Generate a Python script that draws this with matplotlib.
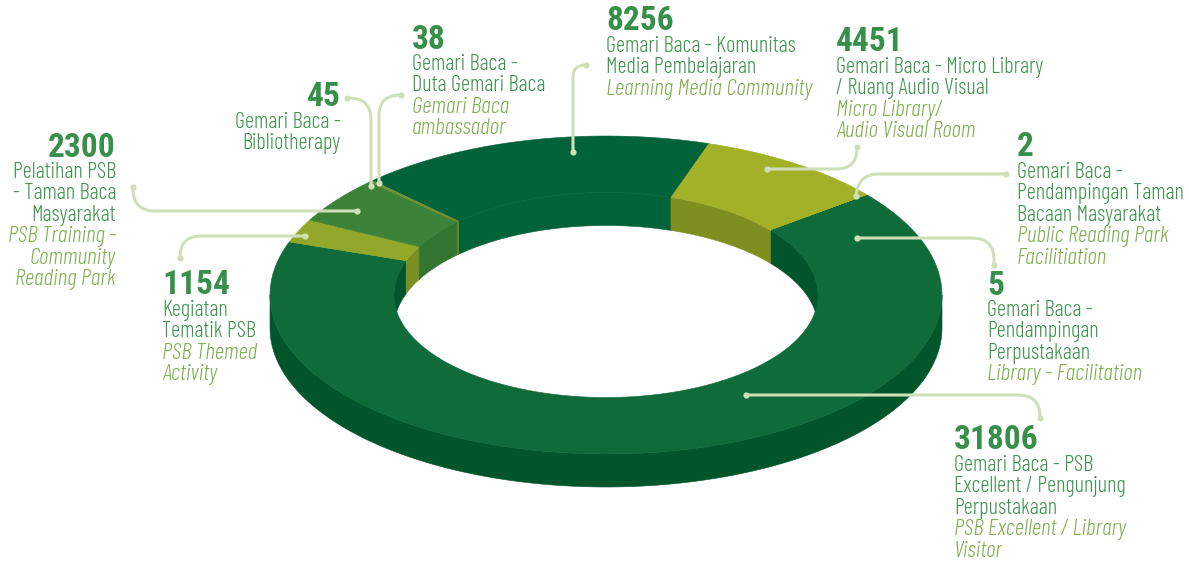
import numpy as np
import matplotlib
matplotlib.use("Agg")
import matplotlib.pyplot as plt
from matplotlib.path import Path
from matplotlib.patches import PathPatch

# clockwise from the 8256 slice
values = [8256, 4451, 2, 5, 31806, 1154, 2300, 45, 38]
top_colors = ["#02633a", "#a2b128", "#0f6b3a", "#0f6b3a", "#0f6b3a",
              "#93a82b", "#3d8239", "#6f8f33", "#6f8f33"]
inner_colors = ["#02633a", "#7f8f1f", "#00552a", "#00552a", "#00552a",
                "#7c9022", "#337530", "#667f2c", "#667f2c"]
outer_color = "#00552a"

# value, then regular lines, then italic lines
numbers = ["8256", "4451", "2", "5", "31806", "1154", "2300", "45", "38"]
names = [
    ["Gemari Baca - Komunitas", "Media Pembelajaran"],
    ["Gemari Baca - Micro Library", "/ Ruang Audio Visual"],
    ["Gemari Baca -", "Pendampingan Taman", "Bacaan Masyarakat"],
    ["Gemari Baca -", "Pendampingan", "Perpustakaan"],
    ["Gemari Baca - PSB", "Excellent / Pengunjung", "Perpustakaan"],
    ["Kegiatan", "Tematik PSB"],
    ["Pelatihan PSB", "- Taman Baca", "Masyarakat"],
    ["Gemari Baca -", "Bibliotherapy"],
    ["Gemari Baca -", "Duta Gemari Baca"],
]
names_en = [
    ["Learning Media Community"],
    ["Micro Library/", "Audio Visual Room"],
    ["Public Reading Park", "Facilitiation"],
    ["Library - Facilitation"],
    ["PSB Excellent / Library", "Visitor"],
    ["PSB Themed", "Activity"],
    ["PSB Training -", "Community", "Reading Park"],
    [],
    ["Gemari Baca", "ambassador"],
]

# layout in pixels: text x, alignment, number baseline, first line baseline
text_pos = [(606, "left", 30, 52), (836, "left", 51, 73), (1017, "left", 156, 178),
            (987, "left", 295, 316), (954, "left", 449, 471), (162, "left", 294, 316),
            (116, "right", 157, 178), (341, "right", 106, 128), (412, "left", 49, 70)]
leaders = [[(573, 152), (573, 65), (586, 65)],
           [(767, 169), (857, 169), (857, 147)],
           [(1006, 174), (858, 174), (856, 196)],
           [(857, 238), (994, 238), (994, 265)],
           [(746, 395), (1040, 395), (1040, 418)],
           [(305, 236), (180, 236), (180, 258)],
           [(357, 211), (133, 211), (133, 187)],
           [(371, 186), (371, 98), (347, 98)],
           [(379, 183), (379, 95), (401, 95)]]

cx, cy = 606, 295
rx_out, ry_out = 336, 159
rx_in, ry_in = 212, 102.5
depth = 33
start_angle = -44

plt.rcParams["font.family"] = ["Barlow Condensed", "Liberation Sans", "DejaVu Sans"]

fig = plt.figure(figsize=(11.89, 5.62), dpi=100)
ax = fig.add_axes([0, 0, 1, 1])
ax.set_xlim(0, 1189)
ax.set_ylim(562, 0)
ax.axis("off")


def arc(rx, ry, a, b, dy=0):
    t = np.radians(np.linspace(a, b, 200))
    return cx + rx * np.sin(t), cy - ry * np.cos(t) + dy


def wall(rx, ry, a, b, color):
    x, y = arc(rx, ry, a, b)
    x2, y2 = arc(rx, ry, b, a, depth)
    ax.fill(np.r_[x, x2], np.r_[y, y2], color=color, lw=0.4, zorder=1)


edges = start_angle + np.r_[0, np.cumsum(values)] / sum(values) * 360

# side walls first, the top face covers whatever sticks out
for i in range(len(values)):
    a, b = edges[i], edges[i + 1]
    if max(a, 90) < min(b, 270):
        wall(rx_out, ry_out, max(a, 90), min(b, 270), outer_color)
    for lo, hi in [(-90, 90), (270, 450)]:
        if max(a, lo) < min(b, hi):
            wall(rx_in, ry_in, max(a, lo), min(b, hi), inner_colors[i])

for i in range(len(values)):
    x, y = arc(rx_out, ry_out, edges[i], edges[i + 1])
    x2, y2 = arc(rx_in, ry_in, edges[i + 1], edges[i])
    ax.fill(np.r_[x, x2], np.r_[y, y2], color=top_colors[i], lw=0.4, zorder=2)

line_col = "#cfe0b8"
for (p0, p1, p2) in leaders:
    p0, p1, p2 = np.array(p0, float), np.array(p1, float), np.array(p2, float)
    r = min(22, np.linalg.norm(p2 - p1) * 0.95, np.linalg.norm(p0 - p1) * 0.95)
    a = p1 + (p0 - p1) / np.linalg.norm(p0 - p1) * r
    b = p1 + (p2 - p1) / np.linalg.norm(p2 - p1) * r
    path = Path([p0, a, p1, b, p2],
                [Path.MOVETO, Path.LINETO, Path.CURVE3, Path.CURVE3, Path.LINETO])
    ax.add_patch(PathPatch(path, fc="none", ec=line_col, lw=2.2, zorder=3))
    ax.plot([p0[0], p2[0]], [p0[1], p2[1]], "o", color=line_col, ms=4.5, mew=0,
            zorder=4)

pitch = 21.4
for i, num in enumerate(numbers):
    tx, ha, y_num, y0 = text_pos[i]
    ax.text(tx, y_num, num, ha=ha, va="baseline", fontsize=24, fontweight="bold",
            family=["Roboto Condensed", "Barlow Condensed", "DejaVu Sans"],
            color="#37904a")
    y = y0
    for line in names[i]:
        ax.text(tx, y, line, ha=ha, va="baseline", fontsize=16.1, fontweight=300,
                color="#3f9450")
        y += pitch
    for line in names_en[i]:
        ax.text(tx, y, line, ha=ha, va="baseline", fontsize=16.9, fontweight=300,
                style="italic", color="#7fb04f")
        y += pitch

fig.savefig("out.png", dpi=100)
